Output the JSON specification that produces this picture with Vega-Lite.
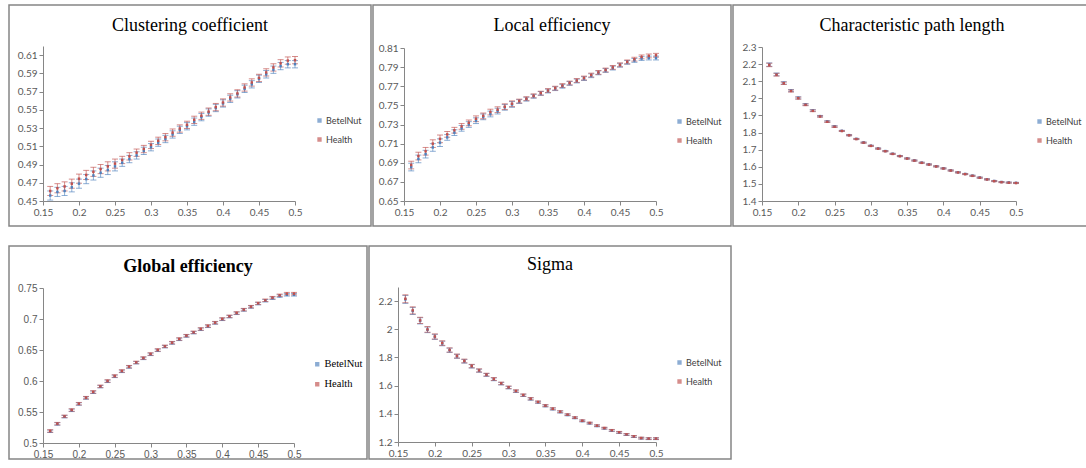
{
"$schema": "https://vega.github.io/schema/vega-lite/v6.json",
"padding": {"left": 8, "top": 4, "right": 0, "bottom": 0},
"background": "white",
"datasets": {
"cc": [
{"x":0.16,"g":"BetelNut","y":0.456,"e":0.005},{"x":0.17,"g":"BetelNut","y":0.460,"e":0.005},{"x":0.18,"g":"BetelNut","y":0.461,"e":0.005},{"x":0.19,"g":"BetelNut","y":0.465,"e":0.005},{"x":0.2,"g":"BetelNut","y":0.469,"e":0.005},{"x":0.21,"g":"BetelNut","y":0.474,"e":0.005},{"x":0.22,"g":"BetelNut","y":0.478,"e":0.005},{"x":0.23,"g":"BetelNut","y":0.481,"e":0.005},{"x":0.24,"g":"BetelNut","y":0.484,"e":0.005},{"x":0.25,"g":"BetelNut","y":0.488,"e":0.005},
{"x":0.26,"g":"BetelNut","y":0.492,"e":0.004},{"x":0.27,"g":"BetelNut","y":0.496,"e":0.004},{"x":0.28,"g":"BetelNut","y":0.500,"e":0.004},{"x":0.29,"g":"BetelNut","y":0.505,"e":0.004},{"x":0.3,"g":"BetelNut","y":0.509,"e":0.004},{"x":0.31,"g":"BetelNut","y":0.514,"e":0.004},{"x":0.32,"g":"BetelNut","y":0.518,"e":0.004},{"x":0.33,"g":"BetelNut","y":0.523,"e":0.004},{"x":0.34,"g":"BetelNut","y":0.528,"e":0.004},{"x":0.35,"g":"BetelNut","y":0.532,"e":0.004},
{"x":0.36,"g":"BetelNut","y":0.537,"e":0.004},{"x":0.37,"g":"BetelNut","y":0.542,"e":0.004},{"x":0.38,"g":"BetelNut","y":0.547,"e":0.004},{"x":0.39,"g":"BetelNut","y":0.552,"e":0.004},{"x":0.4,"g":"BetelNut","y":0.557,"e":0.004},{"x":0.41,"g":"BetelNut","y":0.562,"e":0.004},{"x":0.42,"g":"BetelNut","y":0.567,"e":0.004},{"x":0.43,"g":"BetelNut","y":0.573,"e":0.004},{"x":0.44,"g":"BetelNut","y":0.578,"e":0.004},{"x":0.45,"g":"BetelNut","y":0.584,"e":0.004},
{"x":0.46,"g":"BetelNut","y":0.589,"e":0.004},{"x":0.47,"g":"BetelNut","y":0.594,"e":0.004},{"x":0.48,"g":"BetelNut","y":0.598,"e":0.004},{"x":0.49,"g":"BetelNut","y":0.600,"e":0.004},{"x":0.5,"g":"BetelNut","y":0.600,"e":0.004},
{"x":0.16,"g":"Health","y":0.461,"e":0.005},{"x":0.17,"g":"Health","y":0.464,"e":0.005},{"x":0.18,"g":"Health","y":0.466,"e":0.005},{"x":0.19,"g":"Health","y":0.469,"e":0.005},{"x":0.2,"g":"Health","y":0.4745,"e":0.005},{"x":0.21,"g":"Health","y":0.4786,"e":0.005},{"x":0.22,"g":"Health","y":0.482,"e":0.005},{"x":0.23,"g":"Health","y":0.485,"e":0.005},{"x":0.24,"g":"Health","y":0.488,"e":0.005},{"x":0.25,"g":"Health","y":0.491,"e":0.005},
{"x":0.26,"g":"Health","y":0.495,"e":0.004},{"x":0.27,"g":"Health","y":0.499,"e":0.004},{"x":0.28,"g":"Health","y":0.503,"e":0.004},{"x":0.29,"g":"Health","y":0.507,"e":0.004},{"x":0.3,"g":"Health","y":0.5115,"e":0.004},{"x":0.31,"g":"Health","y":0.516,"e":0.004},{"x":0.32,"g":"Health","y":0.520,"e":0.004},{"x":0.33,"g":"Health","y":0.525,"e":0.004},{"x":0.34,"g":"Health","y":0.5295,"e":0.004},{"x":0.35,"g":"Health","y":0.5335,"e":0.004},
{"x":0.36,"g":"Health","y":0.539,"e":0.004},{"x":0.37,"g":"Health","y":0.5435,"e":0.004},{"x":0.38,"g":"Health","y":0.548,"e":0.004},{"x":0.39,"g":"Health","y":0.553,"e":0.004},{"x":0.4,"g":"Health","y":0.558,"e":0.004},{"x":0.41,"g":"Health","y":0.5636,"e":0.004},{"x":0.42,"g":"Health","y":0.568,"e":0.004},{"x":0.43,"g":"Health","y":0.5745,"e":0.004},{"x":0.44,"g":"Health","y":0.580,"e":0.004},{"x":0.45,"g":"Health","y":0.585,"e":0.004},
{"x":0.46,"g":"Health","y":0.591,"e":0.004},{"x":0.47,"g":"Health","y":0.5965,"e":0.004},{"x":0.48,"g":"Health","y":0.601,"e":0.004},{"x":0.49,"g":"Health","y":0.604,"e":0.004},{"x":0.5,"g":"Health","y":0.6045,"e":0.004}
],
"le": [
{"x":0.16,"g":"BetelNut","y":0.6855,"e":0.004},{"x":0.17,"g":"BetelNut","y":0.694,"e":0.004},{"x":0.18,"g":"BetelNut","y":0.699,"e":0.004},{"x":0.19,"g":"BetelNut","y":0.706,"e":0.004},{"x":0.2,"g":"BetelNut","y":0.711,"e":0.004},{"x":0.21,"g":"BetelNut","y":0.7165,"e":0.003},{"x":0.22,"g":"BetelNut","y":0.7215,"e":0.003},{"x":0.23,"g":"BetelNut","y":0.726,"e":0.003},{"x":0.24,"g":"BetelNut","y":0.730,"e":0.003},{"x":0.25,"g":"BetelNut","y":0.734,"e":0.003},
{"x":0.26,"g":"BetelNut","y":0.738,"e":0.003},{"x":0.27,"g":"BetelNut","y":0.741,"e":0.003},{"x":0.28,"g":"BetelNut","y":0.744,"e":0.003},{"x":0.29,"g":"BetelNut","y":0.748,"e":0.003},{"x":0.3,"g":"BetelNut","y":0.751,"e":0.003},{"x":0.31,"g":"BetelNut","y":0.754,"e":0.002},{"x":0.32,"g":"BetelNut","y":0.7565,"e":0.002},{"x":0.33,"g":"BetelNut","y":0.7595,"e":0.002},{"x":0.34,"g":"BetelNut","y":0.7625,"e":0.002},{"x":0.35,"g":"BetelNut","y":0.765,"e":0.002},
{"x":0.36,"g":"BetelNut","y":0.7675,"e":0.002},{"x":0.37,"g":"BetelNut","y":0.770,"e":0.002},{"x":0.38,"g":"BetelNut","y":0.773,"e":0.002},{"x":0.39,"g":"BetelNut","y":0.7755,"e":0.002},{"x":0.4,"g":"BetelNut","y":0.778,"e":0.002},{"x":0.41,"g":"BetelNut","y":0.781,"e":0.002},{"x":0.42,"g":"BetelNut","y":0.784,"e":0.002},{"x":0.43,"g":"BetelNut","y":0.7865,"e":0.002},{"x":0.44,"g":"BetelNut","y":0.789,"e":0.002},{"x":0.45,"g":"BetelNut","y":0.792,"e":0.002},
{"x":0.46,"g":"BetelNut","y":0.795,"e":0.002},{"x":0.47,"g":"BetelNut","y":0.797,"e":0.002},{"x":0.48,"g":"BetelNut","y":0.799,"e":0.002},{"x":0.49,"g":"BetelNut","y":0.7995,"e":0.002},{"x":0.5,"g":"BetelNut","y":0.7995,"e":0.002},
{"x":0.16,"g":"Health","y":0.6876,"e":0.004},{"x":0.17,"g":"Health","y":0.697,"e":0.004},{"x":0.18,"g":"Health","y":0.702,"e":0.004},{"x":0.19,"g":"Health","y":0.710,"e":0.004},{"x":0.2,"g":"Health","y":0.715,"e":0.004},{"x":0.21,"g":"Health","y":0.7197,"e":0.003},{"x":0.22,"g":"Health","y":0.724,"e":0.003},{"x":0.23,"g":"Health","y":0.728,"e":0.003},{"x":0.24,"g":"Health","y":0.7317,"e":0.003},{"x":0.25,"g":"Health","y":0.736,"e":0.003},
{"x":0.26,"g":"Health","y":0.739,"e":0.003},{"x":0.27,"g":"Health","y":0.743,"e":0.003},{"x":0.28,"g":"Health","y":0.7455,"e":0.003},{"x":0.29,"g":"Health","y":0.7486,"e":0.003},{"x":0.3,"g":"Health","y":0.7517,"e":0.003},{"x":0.31,"g":"Health","y":0.7545,"e":0.002},{"x":0.32,"g":"Health","y":0.757,"e":0.002},{"x":0.33,"g":"Health","y":0.760,"e":0.002},{"x":0.34,"g":"Health","y":0.7628,"e":0.002},{"x":0.35,"g":"Health","y":0.7655,"e":0.002},
{"x":0.36,"g":"Health","y":0.768,"e":0.002},{"x":0.37,"g":"Health","y":0.7707,"e":0.002},{"x":0.38,"g":"Health","y":0.7734,"e":0.002},{"x":0.39,"g":"Health","y":0.776,"e":0.002},{"x":0.4,"g":"Health","y":0.7786,"e":0.002},{"x":0.41,"g":"Health","y":0.7817,"e":0.002},{"x":0.42,"g":"Health","y":0.7845,"e":0.002},{"x":0.43,"g":"Health","y":0.787,"e":0.002},{"x":0.44,"g":"Health","y":0.7897,"e":0.002},{"x":0.45,"g":"Health","y":0.7924,"e":0.002},
{"x":0.46,"g":"Health","y":0.7955,"e":0.002},{"x":0.47,"g":"Health","y":0.7983,"e":0.002},{"x":0.48,"g":"Health","y":0.8007,"e":0.002},{"x":0.49,"g":"Health","y":0.8017,"e":0.002},{"x":0.5,"g":"Health","y":0.8024,"e":0.002}
],
"cpl": [
{"x":0.16,"g":"BetelNut","y":2.197,"e":0.010},{"x":0.17,"g":"BetelNut","y":2.140,"e":0.008},{"x":0.18,"g":"BetelNut","y":2.090,"e":0.007},{"x":0.19,"g":"BetelNut","y":2.045,"e":0.006},{"x":0.2,"g":"BetelNut","y":2.003,"e":0.006},{"x":0.21,"g":"BetelNut","y":1.964,"e":0.005},{"x":0.22,"g":"BetelNut","y":1.929,"e":0.005},{"x":0.23,"g":"BetelNut","y":1.896,"e":0.004},{"x":0.24,"g":"BetelNut","y":1.865,"e":0.004},{"x":0.25,"g":"BetelNut","y":1.836,"e":0.004},
{"x":0.26,"g":"BetelNut","y":1.810,"e":0.003},{"x":0.27,"g":"BetelNut","y":1.785,"e":0.003},{"x":0.28,"g":"BetelNut","y":1.763,"e":0.003},{"x":0.29,"g":"BetelNut","y":1.742,"e":0.003},{"x":0.3,"g":"BetelNut","y":1.723,"e":0.003},{"x":0.31,"g":"BetelNut","y":1.707,"e":0.003},{"x":0.32,"g":"BetelNut","y":1.692,"e":0.003},{"x":0.33,"g":"BetelNut","y":1.676,"e":0.003},{"x":0.34,"g":"BetelNut","y":1.663,"e":0.003},{"x":0.35,"g":"BetelNut","y":1.649,"e":0.003},
{"x":0.36,"g":"BetelNut","y":1.637,"e":0.003},{"x":0.37,"g":"BetelNut","y":1.624,"e":0.003},{"x":0.38,"g":"BetelNut","y":1.614,"e":0.003},{"x":0.39,"g":"BetelNut","y":1.603,"e":0.003},{"x":0.4,"g":"BetelNut","y":1.591,"e":0.003},{"x":0.41,"g":"BetelNut","y":1.579,"e":0.003},{"x":0.42,"g":"BetelNut","y":1.568,"e":0.003},{"x":0.43,"g":"BetelNut","y":1.558,"e":0.003},{"x":0.44,"g":"BetelNut","y":1.548,"e":0.003},{"x":0.45,"g":"BetelNut","y":1.537,"e":0.003},
{"x":0.46,"g":"BetelNut","y":1.527,"e":0.003},{"x":0.47,"g":"BetelNut","y":1.517,"e":0.003},{"x":0.48,"g":"BetelNut","y":1.511,"e":0.003},{"x":0.49,"g":"BetelNut","y":1.508,"e":0.003},{"x":0.5,"g":"BetelNut","y":1.506,"e":0.003},
{"x":0.16,"g":"Health","y":2.195,"e":0.010},{"x":0.17,"g":"Health","y":2.138,"e":0.008},{"x":0.18,"g":"Health","y":2.088,"e":0.007},{"x":0.19,"g":"Health","y":2.043,"e":0.006},{"x":0.2,"g":"Health","y":2.001,"e":0.006},{"x":0.21,"g":"Health","y":1.962,"e":0.005},{"x":0.22,"g":"Health","y":1.927,"e":0.005},{"x":0.23,"g":"Health","y":1.894,"e":0.004},{"x":0.24,"g":"Health","y":1.863,"e":0.004},{"x":0.25,"g":"Health","y":1.834,"e":0.004},
{"x":0.26,"g":"Health","y":1.809,"e":0.003},{"x":0.27,"g":"Health","y":1.784,"e":0.003},{"x":0.28,"g":"Health","y":1.762,"e":0.003},{"x":0.29,"g":"Health","y":1.741,"e":0.003},{"x":0.3,"g":"Health","y":1.722,"e":0.003},{"x":0.31,"g":"Health","y":1.706,"e":0.003},{"x":0.32,"g":"Health","y":1.691,"e":0.003},{"x":0.33,"g":"Health","y":1.675,"e":0.003},{"x":0.34,"g":"Health","y":1.662,"e":0.003},{"x":0.35,"g":"Health","y":1.648,"e":0.003},
{"x":0.36,"g":"Health","y":1.636,"e":0.003},{"x":0.37,"g":"Health","y":1.623,"e":0.003},{"x":0.38,"g":"Health","y":1.613,"e":0.003},{"x":0.39,"g":"Health","y":1.602,"e":0.003},{"x":0.4,"g":"Health","y":1.590,"e":0.003},{"x":0.41,"g":"Health","y":1.578,"e":0.003},{"x":0.42,"g":"Health","y":1.567,"e":0.003},{"x":0.43,"g":"Health","y":1.557,"e":0.003},{"x":0.44,"g":"Health","y":1.547,"e":0.003},{"x":0.45,"g":"Health","y":1.536,"e":0.003},
{"x":0.46,"g":"Health","y":1.526,"e":0.003},{"x":0.47,"g":"Health","y":1.516,"e":0.003},{"x":0.48,"g":"Health","y":1.510,"e":0.003},{"x":0.49,"g":"Health","y":1.507,"e":0.003},{"x":0.5,"g":"Health","y":1.505,"e":0.003}
],
"ge": [
{"x":0.16,"g":"BetelNut","y":0.5189,"e":0.002},{"x":0.17,"g":"BetelNut","y":0.5307,"e":0.002},{"x":0.18,"g":"BetelNut","y":0.5425,"e":0.002},{"x":0.19,"g":"BetelNut","y":0.5527,"e":0.002},{"x":0.2,"g":"BetelNut","y":0.5629,"e":0.002},{"x":0.21,"g":"BetelNut","y":0.5726,"e":0.002},{"x":0.22,"g":"BetelNut","y":0.5818,"e":0.002},{"x":0.23,"g":"BetelNut","y":0.5909,"e":0.002},{"x":0.24,"g":"BetelNut","y":0.5995,"e":0.002},{"x":0.25,"g":"BetelNut","y":0.6075,"e":0.002},
{"x":0.26,"g":"BetelNut","y":0.6156,"e":0.002},{"x":0.27,"g":"BetelNut","y":0.6226,"e":0.002},{"x":0.28,"g":"BetelNut","y":0.6295,"e":0.002},{"x":0.29,"g":"BetelNut","y":0.6365,"e":0.002},{"x":0.3,"g":"BetelNut","y":0.643,"e":0.002},{"x":0.31,"g":"BetelNut","y":0.6495,"e":0.002},{"x":0.32,"g":"BetelNut","y":0.6554,"e":0.002},{"x":0.33,"g":"BetelNut","y":0.6613,"e":0.002},{"x":0.34,"g":"BetelNut","y":0.6672,"e":0.002},{"x":0.35,"g":"BetelNut","y":0.6726,"e":0.002},
{"x":0.36,"g":"BetelNut","y":0.678,"e":0.002},{"x":0.37,"g":"BetelNut","y":0.6834,"e":0.002},{"x":0.38,"g":"BetelNut","y":0.6882,"e":0.002},{"x":0.39,"g":"BetelNut","y":0.6936,"e":0.002},{"x":0.4,"g":"BetelNut","y":0.6995,"e":0.002},{"x":0.41,"g":"BetelNut","y":0.7038,"e":0.002},{"x":0.42,"g":"BetelNut","y":0.7092,"e":0.002},{"x":0.43,"g":"BetelNut","y":0.7146,"e":0.002},{"x":0.44,"g":"BetelNut","y":0.7194,"e":0.002},{"x":0.45,"g":"BetelNut","y":0.7248,"e":0.002},
{"x":0.46,"g":"BetelNut","y":0.7296,"e":0.002},{"x":0.47,"g":"BetelNut","y":0.7335,"e":0.002},{"x":0.48,"g":"BetelNut","y":0.737,"e":0.002},{"x":0.49,"g":"BetelNut","y":0.739,"e":0.002},{"x":0.5,"g":"BetelNut","y":0.739,"e":0.002},
{"x":0.16,"g":"Health","y":0.5194,"e":0.002},{"x":0.17,"g":"Health","y":0.5312,"e":0.002},{"x":0.18,"g":"Health","y":0.543,"e":0.002},{"x":0.19,"g":"Health","y":0.5532,"e":0.002},{"x":0.2,"g":"Health","y":0.5634,"e":0.002},{"x":0.21,"g":"Health","y":0.5731,"e":0.002},{"x":0.22,"g":"Health","y":0.5823,"e":0.002},{"x":0.23,"g":"Health","y":0.5914,"e":0.002},{"x":0.24,"g":"Health","y":0.600,"e":0.002},{"x":0.25,"g":"Health","y":0.608,"e":0.002},
{"x":0.26,"g":"Health","y":0.6161,"e":0.002},{"x":0.27,"g":"Health","y":0.6231,"e":0.002},{"x":0.28,"g":"Health","y":0.630,"e":0.002},{"x":0.29,"g":"Health","y":0.637,"e":0.002},{"x":0.3,"g":"Health","y":0.6435,"e":0.002},{"x":0.31,"g":"Health","y":0.650,"e":0.002},{"x":0.32,"g":"Health","y":0.6559,"e":0.002},{"x":0.33,"g":"Health","y":0.6618,"e":0.002},{"x":0.34,"g":"Health","y":0.6677,"e":0.002},{"x":0.35,"g":"Health","y":0.6731,"e":0.002},
{"x":0.36,"g":"Health","y":0.6785,"e":0.002},{"x":0.37,"g":"Health","y":0.6839,"e":0.002},{"x":0.38,"g":"Health","y":0.6887,"e":0.002},{"x":0.39,"g":"Health","y":0.6941,"e":0.002},{"x":0.4,"g":"Health","y":0.700,"e":0.002},{"x":0.41,"g":"Health","y":0.7043,"e":0.002},{"x":0.42,"g":"Health","y":0.7097,"e":0.002},{"x":0.43,"g":"Health","y":0.7151,"e":0.002},{"x":0.44,"g":"Health","y":0.7199,"e":0.002},{"x":0.45,"g":"Health","y":0.7253,"e":0.002},
{"x":0.46,"g":"Health","y":0.7301,"e":0.002},{"x":0.47,"g":"Health","y":0.7344,"e":0.002},{"x":0.48,"g":"Health","y":0.7382,"e":0.002},{"x":0.49,"g":"Health","y":0.7409,"e":0.002},{"x":0.5,"g":"Health","y":0.7409,"e":0.002}
],
"sg": [
{"x":0.16,"g":"BetelNut","y":2.212,"e":0.028},{"x":0.17,"g":"BetelNut","y":2.130,"e":0.025},{"x":0.18,"g":"BetelNut","y":2.060,"e":0.022},{"x":0.19,"g":"BetelNut","y":1.996,"e":0.020},{"x":0.2,"g":"BetelNut","y":1.946,"e":0.018},{"x":0.21,"g":"BetelNut","y":1.899,"e":0.016},{"x":0.22,"g":"BetelNut","y":1.851,"e":0.015},{"x":0.23,"g":"BetelNut","y":1.808,"e":0.014},{"x":0.24,"g":"BetelNut","y":1.773,"e":0.013},{"x":0.25,"g":"BetelNut","y":1.737,"e":0.012},
{"x":0.26,"g":"BetelNut","y":1.706,"e":0.011},{"x":0.27,"g":"BetelNut","y":1.676,"e":0.010},{"x":0.28,"g":"BetelNut","y":1.645,"e":0.010},{"x":0.29,"g":"BetelNut","y":1.614,"e":0.009},{"x":0.3,"g":"BetelNut","y":1.586,"e":0.009},{"x":0.31,"g":"BetelNut","y":1.560,"e":0.008},{"x":0.32,"g":"BetelNut","y":1.531,"e":0.008},{"x":0.33,"g":"BetelNut","y":1.505,"e":0.008},{"x":0.34,"g":"BetelNut","y":1.482,"e":0.007},{"x":0.35,"g":"BetelNut","y":1.456,"e":0.007},
{"x":0.36,"g":"BetelNut","y":1.434,"e":0.007},{"x":0.37,"g":"BetelNut","y":1.413,"e":0.007},{"x":0.38,"g":"BetelNut","y":1.392,"e":0.006},{"x":0.39,"g":"BetelNut","y":1.371,"e":0.006},{"x":0.4,"g":"BetelNut","y":1.349,"e":0.006},{"x":0.41,"g":"BetelNut","y":1.333,"e":0.006},{"x":0.42,"g":"BetelNut","y":1.314,"e":0.006},{"x":0.43,"g":"BetelNut","y":1.297,"e":0.006},{"x":0.44,"g":"BetelNut","y":1.281,"e":0.006},{"x":0.45,"g":"BetelNut","y":1.267,"e":0.006},
{"x":0.46,"g":"BetelNut","y":1.252,"e":0.006},{"x":0.47,"g":"BetelNut","y":1.238,"e":0.006},{"x":0.48,"g":"BetelNut","y":1.227,"e":0.006},{"x":0.49,"g":"BetelNut","y":1.223,"e":0.006},{"x":0.5,"g":"BetelNut","y":1.223,"e":0.006},
{"x":0.16,"g":"Health","y":2.2165,"e":0.028},{"x":0.17,"g":"Health","y":2.134,"e":0.025},{"x":0.18,"g":"Health","y":2.063,"e":0.022},{"x":0.19,"g":"Health","y":1.999,"e":0.020},{"x":0.2,"g":"Health","y":1.949,"e":0.018},{"x":0.21,"g":"Health","y":1.902,"e":0.016},{"x":0.22,"g":"Health","y":1.853,"e":0.015},{"x":0.23,"g":"Health","y":1.810,"e":0.014},{"x":0.24,"g":"Health","y":1.775,"e":0.013},{"x":0.25,"g":"Health","y":1.739,"e":0.012},
{"x":0.26,"g":"Health","y":1.708,"e":0.011},{"x":0.27,"g":"Health","y":1.678,"e":0.010},{"x":0.28,"g":"Health","y":1.647,"e":0.010},{"x":0.29,"g":"Health","y":1.616,"e":0.009},{"x":0.3,"g":"Health","y":1.588,"e":0.009},{"x":0.31,"g":"Health","y":1.562,"e":0.008},{"x":0.32,"g":"Health","y":1.533,"e":0.008},{"x":0.33,"g":"Health","y":1.507,"e":0.008},{"x":0.34,"g":"Health","y":1.484,"e":0.007},{"x":0.35,"g":"Health","y":1.458,"e":0.007},
{"x":0.36,"g":"Health","y":1.436,"e":0.007},{"x":0.37,"g":"Health","y":1.415,"e":0.007},{"x":0.38,"g":"Health","y":1.394,"e":0.006},{"x":0.39,"g":"Health","y":1.373,"e":0.006},{"x":0.4,"g":"Health","y":1.351,"e":0.006},{"x":0.41,"g":"Health","y":1.335,"e":0.006},{"x":0.42,"g":"Health","y":1.316,"e":0.006},{"x":0.43,"g":"Health","y":1.299,"e":0.006},{"x":0.44,"g":"Health","y":1.283,"e":0.006},{"x":0.45,"g":"Health","y":1.269,"e":0.006},
{"x":0.46,"g":"Health","y":1.254,"e":0.006},{"x":0.47,"g":"Health","y":1.240,"e":0.006},{"x":0.48,"g":"Health","y":1.228,"e":0.006},{"x":0.49,"g":"Health","y":1.224,"e":0.006},{"x":0.5,"g":"Health","y":1.224,"e":0.006}
]
},
"spacing": 18,
"resolve": {"scale": {"x": "independent", "y": "independent", "color": "independent"}, "axis": {"x": "independent", "y": "independent"}, "legend": {"color": "independent"}},
"vconcat": [
{
"bounds": "flush",
"hconcat": [
{
"width": 362, "height": 221,
"data": {"name": "cc"},
"title": {"text": "Clustering coefficient", "offset": -44, "baseline": "alphabetic"},
"encoding": {
"x": {"field": "x", "type": "quantitative", "scale": {"domain": [0.15, 0.5], "range": [34, 286], "nice": false, "zero": false}, "axis": {"title": null, "values": [0.15,0.2,0.25,0.3,0.35,0.4,0.45,0.5], "format": ".2~f", "offset": -25}},
"y": {"field": "y", "type": "quantitative", "scale": {"domain": [0.45, 0.62], "range": [196, 41], "nice": false, "zero": false}, "axis": {"title": null, "values": [0.45,0.47,0.49,0.51,0.53,0.55,0.57,0.59,0.61], "format": ".2f", "offset": -34}},
"color": {"field": "g", "type": "nominal", "scale": {"domain": ["BetelNut", "Health"], "range": ["#4F81BD", "#C0504D"]}, "legend": {"title": null, "orient": "none", "legendX": 306, "legendY": 111}}
},
"layer": [
{"mark": {"type": "errorbar", "ticks": {"size": 6}, "thickness": 1, "opacity": 0.65}, "encoding": {"yError": {"field": "e"}}},
{"mark": {"type": "point", "shape": "square", "filled": true, "size": 6, "opacity": 1}}
]
},
{
"width": 358, "height": 221,
"data": {"name": "le"},
"title": {"text": "Local efficiency", "offset": -44, "baseline": "alphabetic"},
"encoding": {
"x": {"field": "x", "type": "quantitative", "scale": {"domain": [0.15, 0.5], "range": [31, 283], "nice": false, "zero": false}, "axis": {"title": null, "values": [0.15,0.2,0.25,0.3,0.35,0.4,0.45,0.5], "format": ".2~f", "offset": -25}},
"y": {"field": "y", "type": "quantitative", "scale": {"domain": [0.65, 0.81], "range": [196, 43], "nice": false, "zero": false}, "axis": {"title": null, "values": [0.65,0.67,0.69,0.71,0.73,0.75,0.77,0.79,0.81], "format": ".2f", "offset": -31}},
"color": {"field": "g", "type": "nominal", "scale": {"domain": ["BetelNut", "Health"], "range": ["#4F81BD", "#C0504D"]}, "legend": {"title": null, "orient": "none", "legendX": 302, "legendY": 112}}
},
"layer": [
{"mark": {"type": "errorbar", "ticks": {"size": 6}, "thickness": 1, "opacity": 0.65}, "encoding": {"yError": {"field": "e"}}},
{"mark": {"type": "point", "shape": "square", "filled": true, "size": 6, "opacity": 1}}
]
},
{
"width": 358, "height": 221,
"data": {"name": "cpl"},
"title": {"text": "Characteristic path length", "offset": -44, "baseline": "alphabetic"},
"encoding": {
"x": {"field": "x", "type": "quantitative", "scale": {"domain": [0.15, 0.5], "range": [29, 283], "nice": false, "zero": false}, "axis": {"title": null, "values": [0.15,0.2,0.25,0.3,0.35,0.4,0.45,0.5], "format": ".2~f", "offset": -25}},
"y": {"field": "y", "type": "quantitative", "scale": {"domain": [1.4, 2.3], "range": [196, 42], "nice": false, "zero": false}, "axis": {"title": null, "values": [1.4,1.5,1.6,1.7,1.8,1.9,2,2.1,2.2,2.3], "format": ".1~f", "offset": -29}},
"color": {"field": "g", "type": "nominal", "scale": {"domain": ["BetelNut", "Health"], "range": ["#4F81BD", "#C0504D"]}, "legend": {"title": null, "orient": "none", "legendX": 302, "legendY": 112}}
},
"layer": [
{"mark": {"type": "errorbar", "ticks": {"size": 6}, "thickness": 1, "opacity": 0.65}, "encoding": {"yError": {"field": "e"}}},
{"mark": {"type": "point", "shape": "square", "filled": true, "size": 6, "opacity": 1}}
]
}
],
"spacing": 2,
"resolve": {"scale": {"x": "independent", "y": "independent", "color": "independent"}, "axis": {"x": "independent", "y": "independent"}, "legend": {"color": "independent"}}
},
{
"bounds": "flush",
"hconcat": [
{
"width": 358, "height": 213,
"data": {"name": "ge"},
"title": {"text": "Global efficiency", "offset": -44, "baseline": "alphabetic", "fontWeight": "bold"},
"encoding": {
"x": {"field": "x", "type": "quantitative", "scale": {"domain": [0.15, 0.5], "range": [34, 285], "nice": false, "zero": false}, "axis": {"title": null, "values": [0.15,0.2,0.25,0.3,0.35,0.4,0.45,0.5], "format": ".2~f", "offset": -16, "labelFont": "Liberation Sans"}},
"y": {"field": "y", "type": "quantitative", "scale": {"domain": [0.5, 0.75], "range": [197, 42], "nice": false, "zero": false}, "axis": {"title": null, "values": [0.5,0.55,0.6,0.65,0.7,0.75], "format": ".2~f", "offset": -34, "labelFont": "Liberation Sans"}},
"color": {"field": "g", "type": "nominal", "scale": {"domain": ["BetelNut", "Health"], "range": ["#4F81BD", "#C0504D"]}, "legend": {"title": null, "orient": "none", "legendX": 303, "legendY": 113, "labelFont": "Liberation Serif", "labelFontSize": 10.5, "labelColor": "#000000"}}
},
"layer": [
{"mark": {"type": "errorbar", "ticks": {"size": 6}, "thickness": 1, "opacity": 0.65}, "encoding": {"yError": {"field": "e"}}},
{"mark": {"type": "point", "shape": "square", "filled": true, "size": 6, "opacity": 1}}
]
},
{
"width": 362, "height": 213,
"data": {"name": "sg"},
"title": {"text": "Sigma", "offset": -42, "baseline": "alphabetic"},
"encoding": {
"x": {"field": "x", "type": "quantitative", "scale": {"domain": [0.15, 0.5], "range": [29, 287], "nice": false, "zero": false}, "axis": {"title": null, "values": [0.15,0.2,0.25,0.3,0.35,0.4,0.45,0.5], "format": ".2~f", "offset": -17}},
"y": {"field": "y", "type": "quantitative", "scale": {"domain": [1.2, 2.3], "range": [196, 41], "nice": false, "zero": false}, "axis": {"title": null, "values": [1.2,1.4,1.6,1.8,2,2.2], "format": ".1~f", "offset": -29}},
"color": {"field": "g", "type": "nominal", "scale": {"domain": ["BetelNut", "Health"], "range": ["#4F81BD", "#C0504D"]}, "legend": {"title": null, "orient": "none", "legendX": 306, "legendY": 112}}
},
"layer": [
{"mark": {"type": "errorbar", "ticks": {"size": 6}, "thickness": 1, "opacity": 0.65}, "encoding": {"yError": {"field": "e"}}},
{"mark": {"type": "point", "shape": "square", "filled": true, "size": 6, "opacity": 1}}
]
}
],
"spacing": 2,
"resolve": {"scale": {"x": "independent", "y": "independent", "color": "independent"}, "axis": {"x": "independent", "y": "independent"}, "legend": {"color": "independent"}}
}
],
"config": {
"view": {"stroke": "#858585", "strokeWidth": 1.5},
"title": {"font": "Liberation Serif", "fontSize": 18, "fontWeight": "normal", "color": "#000000", "anchor": "middle"},
"axis": {"grid": false, "domainColor": "#868686", "domainWidth": 1, "tickColor": "#868686", "tickSize": 4, "labelFont": "Lato", "labelFontSize": 10, "labelColor": "#595959", "labelPadding": 2, "labelFlush": false, "labelOverlap": false},
"legend": {"labelFont": "Lato", "labelFontSize": 9, "labelColor": "#404040", "symbolType": "square", "symbolSize": 8, "rowPadding": 9, "labelOffset": 2}
}
}
